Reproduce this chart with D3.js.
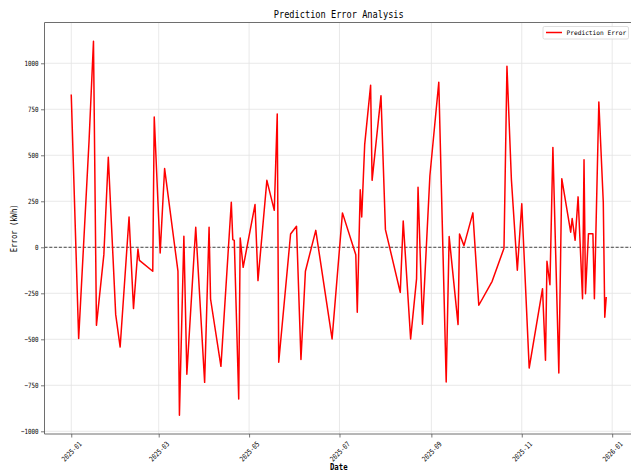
<!DOCTYPE html>
<html>
<head>
<meta charset="utf-8">
<script src="https://cdn.jsdelivr.net/npm/d3@7"></script>
<style>
  html, body { margin: 0; padding: 0; background: #fff; }
  svg { display: block; }
  text { font-family: "DejaVu Sans Mono", "Liberation Mono", monospace; fill: #000; }
</style>
</head>
<body>
<svg id="chart" width="631" height="472"></svg>
<script>
// ---- data ----
const dates = [
  "2025-01-01","2025-01-06","2025-01-13","2025-01-16","2025-01-18","2025-01-23","2025-01-26","2025-01-31",
  "2025-02-03","2025-02-09","2025-02-12","2025-02-15","2025-02-16","2025-02-25","2025-02-26","2025-03-02",
  "2025-03-05","2025-03-14","2025-03-15","2025-03-18","2025-03-20","2025-03-26","2025-04-01","2025-04-04",
  "2025-04-05","2025-04-12","2025-04-19","2025-04-20","2025-04-21","2025-04-24","2025-04-25","2025-04-27",
  "2025-05-05","2025-05-07","2025-05-13","2025-05-18","2025-05-20","2025-05-21","2025-05-29","2025-06-02",
  "2025-06-05","2025-06-08","2025-06-15","2025-06-26","2025-07-03","2025-07-12","2025-07-13","2025-07-15",
  "2025-07-16","2025-07-18","2025-07-22","2025-07-23","2025-07-29","2025-08-01","2025-08-11","2025-08-13",
  "2025-08-18","2025-08-22","2025-08-23","2025-08-26","2025-08-31","2025-09-06","2025-09-11","2025-09-13",
  "2025-09-19","2025-09-20","2025-09-23","2025-09-29","2025-10-03","2025-10-12","2025-10-20","2025-10-22",
  "2025-10-25","2025-10-29","2025-11-01","2025-11-06","2025-11-15","2025-11-17","2025-11-18","2025-11-20",
  "2025-11-22","2025-11-26","2025-11-28","2025-12-04","2025-12-05","2025-12-07","2025-12-09","2025-12-12",
  "2025-12-13","2025-12-14","2025-12-16","2025-12-19","2025-12-20","2025-12-23","2025-12-26","2025-12-27",
  "2025-12-28"
];
const errors = [
  830, -496, 576, 1120, -424, -40, 489, -366,
  -542, 165, -333, -9, -71, -130, 708, -31,
  428, -130, -913, 60, -690, 109, -734, 109,
  -281, -647, 245, 42, 38, -824, 51, -109,
  232, -181, 364, 201, 725, -625, 72, 114,
  -610, -130, 92, -498, 187, -40, -353, 313,
  165, 558, 880, 364, 824, 96, -245, 143,
  -498, -172, 326, -418, 389, 897, -732, 58,
  -420, 72, 9, 187, -315, -185, -5, 984,
  368, -125, 237, -656, -225, -614, -76, -203,
  543, -683, 373, 82, 156, 38, 274, -279,
  476, -252, 74, 74, -279, 790, 245, -380,
  -270
];
const yTicks = [-1000, -750, -500, -250, 0, 250, 500, 750, 1000];
const xTickLabels = ["2025-01","2025-03","2025-05","2025-07","2025-09","2025-11","2026-01"];
const titleText = "Prediction Error Analysis";
const xLabel = "Date";
const yLabel = "Error (kWh)";
const legendLabel = "Prediction Error";

// ---- layout ----
const W = 631, H = 472;
const plot = { left: 44.5, right: 633, top: 22.5, bottom: 434 };

const parse = d3.timeParse("%Y-%m-%d");
const parseMonth = d3.timeParse("%Y-%m");
const data = dates.map((d, i) => ({ date: parse(d), value: errors[i] }));

const xExt = d3.extent(data, d => +d.date);
const xPad = (xExt[1] - xExt[0]) * 0.05;
const x = d3.scaleTime()
  .domain([new Date(xExt[0] - xPad), new Date(xExt[1] + xPad)])
  .range([plot.left, plot.right]);

const yExt = d3.extent(errors);
const yPad = (yExt[1] - yExt[0]) * 0.05;
const y = d3.scaleLinear()
  .domain([yExt[0] - yPad, yExt[1] + yPad])
  .range([plot.bottom, plot.top]);

const svg = d3.select("#chart");

function fitText(sel, str, charW) {
  sel.text(str)
    .attr("textLength", str.length * charW)
    .attr("lengthAdjust", "spacingAndGlyphs");
  return sel;
}

const clipId = "plotclip";
svg.append("defs").append("clipPath").attr("id", clipId)
  .append("rect")
  .attr("x", plot.left).attr("y", plot.top)
  .attr("width", plot.right - plot.left).attr("height", plot.bottom - plot.top);

// grid
const xTickDates = xTickLabels.map(parseMonth);
const grid = svg.append("g").attr("clip-path", `url(#${clipId})`);
grid.selectAll("line.vg").data(xTickDates).enter().append("line")
  .attr("x1", d => x(d)).attr("x2", d => x(d))
  .attr("y1", plot.top).attr("y2", plot.bottom)
  .attr("stroke", "#e3e3e3").attr("stroke-width", 0.8);
grid.selectAll("line.hg").data(yTicks).enter().append("line")
  .attr("x1", plot.left).attr("x2", plot.right)
  .attr("y1", d => y(d)).attr("y2", d => y(d))
  .attr("stroke", "#e3e3e3").attr("stroke-width", 0.8);

// zero line
svg.append("line")
  .attr("x1", plot.left).attr("x2", plot.right)
  .attr("y1", y(0)).attr("y2", y(0))
  .attr("stroke", "#333").attr("stroke-width", 0.9)
  .attr("stroke-dasharray", "3,1.8");

// data line
const line = d3.line().x(d => x(d.date)).y(d => y(d.value));
svg.append("path").datum(data)
  .attr("clip-path", `url(#${clipId})`)
  .attr("d", line)
  .attr("fill", "none")
  .attr("stroke", "#ff0000")
  .attr("stroke-width", 1.5)
  .attr("stroke-linejoin", "round");

// spines
const spineColor = "#6e6e6e";
[[plot.left, plot.left, plot.top, plot.bottom],
 [plot.left, plot.right, plot.bottom, plot.bottom],
 [plot.left, plot.right, plot.top, plot.top],
 [plot.right, plot.right, plot.top, plot.bottom]].forEach(s => {
  svg.append("line").attr("x1", s[0]).attr("x2", s[1])
    .attr("y1", s[2]).attr("y2", s[3])
    .attr("stroke", spineColor).attr("stroke-width", 1);
});

// y axis
const yAxis = d3.axisLeft(y).tickValues(yTicks).tickSize(3.5).tickPadding(2.5)
  .tickFormat(d3.format("d"));
const gy = svg.append("g").attr("transform", `translate(${plot.left},0)`).call(yAxis);
gy.select(".domain").remove();
gy.selectAll(".tick line").attr("stroke", "#555").attr("stroke-width", 0.8);
gy.selectAll(".tick text")
  .attr("font-size", 7.2)
  .attr("font-family", "DejaVu Sans Mono, Liberation Mono, monospace")
  .each(function(d) {
    const s = d3.format("d")(d).replace("-", "\u2212");
    fitText(d3.select(this), s, 3.5);
  });

// x axis
const xAxis = d3.axisBottom(x).tickValues(xTickDates).tickSize(3.5)
  .tickFormat((d, i) => xTickLabels[i]);
const gx = svg.append("g").attr("transform", `translate(0,${plot.bottom})`).call(xAxis);
gx.select(".domain").remove();
gx.selectAll(".tick line").attr("stroke", "#555").attr("stroke-width", 0.8);
gx.selectAll(".tick text")
  .attr("font-size", 7.2)
  .attr("font-family", "DejaVu Sans Mono, Liberation Mono, monospace")
  .attr("text-anchor", "middle")
  .attr("dominant-baseline", "central")
  .attr("y", 0).attr("dy", null)
  .attr("transform", "translate(0,17.5) rotate(-45)")
  .each(function(d, i) { fitText(d3.select(this), xTickLabels[i], 3.5); });

// title
fitText(svg.append("text")
  .attr("x", (plot.left + plot.right) / 2).attr("y", 18)
  .attr("text-anchor", "middle")
  .attr("font-size", 10.5), titleText, 5.2);

// axis labels
fitText(svg.append("text")
  .attr("x", (plot.left + plot.right) / 2).attr("y", 469.5)
  .attr("text-anchor", "middle")
  .attr("font-weight", "bold")
  .attr("font-size", 8.4), xLabel, 4.4);

fitText(svg.append("text")
  .attr("transform", `translate(16.5,${(plot.top + plot.bottom) / 2}) rotate(-90)`)
  .attr("text-anchor", "middle")
  .attr("font-size", 8.4), yLabel, 4.35);

// legend
const lg = svg.append("g");
lg.append("rect")
  .attr("x", 543).attr("y", 26.5).attr("width", 85.5).attr("height", 12.5)
  .attr("rx", 1.5)
  .attr("fill", "#fff").attr("fill-opacity", 0.85)
  .attr("stroke", "#d6d6d6").attr("stroke-width", 0.8);
lg.append("line")
  .attr("x1", 546).attr("x2", 562).attr("y1", 32.5).attr("y2", 32.5)
  .attr("stroke", "#ff0000").attr("stroke-width", 1.5);
lg.append("text")
  .attr("x", 566.5).attr("y", 35)
  .attr("font-size", 6.2)
  .text(legendLabel);
</script>
</body>
</html>
